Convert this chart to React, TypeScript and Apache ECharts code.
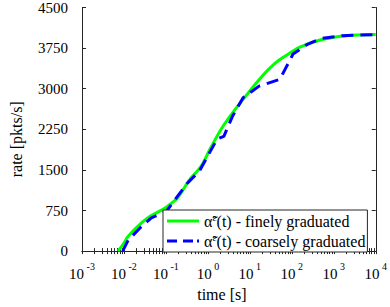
import React, { useEffect, useRef } from "react";
import * as echarts from "echarts";

const fineT = [0.0072, 0.010, 0.012, 0.019, 0.028, 0.041, 0.068, 0.11, 0.19, 0.36, 0.68, 1.12, 2.1, 4.7, 10, 14, 27.5, 50, 100, 155, 430, 1000, 2000, 10000];
const fineV = [0, 150, 251, 420, 540, 640, 730, 830, 986, 1310, 1560, 1880, 2260, 2640, 2958, 3100, 3353, 3530, 3680, 3770, 3891, 3950, 3980, 4000];

const coarseT = [0.0093, 0.0126, 0.025, 0.045, 0.10, 0.32, 0.63, 1.66, 2.4, 3.8, 6.9, 16.6, 52, 107, 234, 500, 1585, 10000];
const coarseV = [0, 200, 440, 615, 725, 1250, 1480, 2070, 2120, 2480, 2833, 3048, 3174, 3640, 3819, 3927, 3980, 4000];

const yTicks = [0, 750, 1500, 2250, 3000, 3750, 4500];
const xMin = 0.001;
const xMax = 10000;
const xTickValues: number[] = [];
for (let d = -3; d < 4; d++) {
  for (let k = 1; k <= 9; k++) xTickValues.push(Number((k * Math.pow(10, d)).toPrecision(3)));
}
xTickValues.push(xMax);

const FONT = "Liberation Serif";
const AX = "#262626";
const GREEN_ICON = "path://M0,0H32V3H0Z";
const BLUE_ICON = "path://M0,0H10V3H0Z M16,0H26V3H16Z M30,0H32V3H30Z";

export default function App() {
  const ref = useRef<HTMLDivElement>(null);
  useEffect(() => {
    const chart = echarts.init(ref.current!, undefined, { renderer: "svg" });
    const tick = () => ({ show: true, inside: true, length: 3, lineStyle: { color: AX, width: 1 }, customValues: xTickValues.slice() });
    const yTick = () => ({ show: true, inside: true, length: 4, lineStyle: { color: AX, width: 1 } });
    chart.setOption({
      animation: false,
      backgroundColor: "#fff",
      textStyle: { fontFamily: FONT, fontSize: 15 },
      grid: { left: 62, right: 11, top: 6, bottom: 50, containLabel: false },
      legend: {
        orient: "vertical",
        left: 163,
        top: 210,
        itemWidth: 32,
        itemHeight: 3,
        itemGap: 2,
        padding: [2, 2, 2, 4],
        borderColor: AX,
        borderWidth: 1,
        backgroundColor: "#fff",
        borderRadius: 0,
        textStyle: {
          fontFamily: FONT,
          fontSize: 16,
          color: "#000",
          lineHeight: 18,
          rich: {
            sup: { fontFamily: FONT, fontSize: 10, lineHeight: 10, verticalAlign: "top", color: "#000" },
          },
        },
        formatter: (name: string) => `α̃{sup|ε}(t) - ${name}`,
        data: [
          { name: "finely graduated", icon: GREEN_ICON },
          { name: "coarsely graduated", icon: BLUE_ICON },
        ],
      },
      xAxis: [
        {
          type: "log",
          logBase: 10,
          min: xMin,
          max: xMax,
          interval: 1,
          splitLine: { show: false },
          position: "bottom",
          axisLine: { show: true, lineStyle: { color: AX, width: 1 } },
          axisTick: tick(),
          axisLabel: {
            show: true,
            margin: 10,
            color: "#000",
            fontFamily: FONT,
            fontSize: 15,
            formatter: (v: number) => `{b|10}{e| ${Math.round(Math.log10(v))}}`,
            rich: {
              b: { fontFamily: FONT, fontSize: 15, lineHeight: 20, verticalAlign: "bottom", color: "#000" },
              e: { fontFamily: FONT, fontSize: 10, lineHeight: 12, verticalAlign: "top", color: "#000" },
            },
          },
          name: "time [s]",
          nameLocation: "middle",
          nameGap: 33,
          nameTextStyle: { fontFamily: FONT, fontSize: 16, color: "#000", padding: [0, 14, 0, 0] },
        },
        {
          type: "log",
          logBase: 10,
          min: xMin,
          max: xMax,
          interval: 1,
          splitLine: { show: false },
          position: "top",
          axisLine: { show: true, lineStyle: { color: AX, width: 1 } },
          axisTick: tick(),
          axisLabel: { show: false },
        },
      ],
      yAxis: [
        {
          type: "value",
          min: yTicks[0],
          max: yTicks[yTicks.length - 1],
          interval: 750,
          position: "left",
          splitLine: { show: false },
          axisLine: { show: true, lineStyle: { color: AX, width: 1 } },
          axisTick: yTick(),
          axisLabel: { show: true, fontFamily: FONT, fontSize: 15, color: "#000", margin: 14, formatter: (v: number) => String(v) },
          name: "rate [pkts/s]",
          nameLocation: "middle",
          nameGap: 58,
          nameTextStyle: { fontFamily: FONT, fontSize: 16, color: "#000", padding: [0, 20, 0, 0] },
        },
        {
          type: "value",
          min: yTicks[0],
          max: yTicks[yTicks.length - 1],
          interval: 750,
          position: "right",
          splitLine: { show: false },
          axisLine: { show: true, lineStyle: { color: AX, width: 1 } },
          axisTick: yTick(),
          axisLabel: { show: false },
        },
      ],
      series: [
        {
          name: "finely graduated",
          type: "line",
          xAxisIndex: 0,
          yAxisIndex: 0,
          showSymbol: false,
          symbol: "none",
          smooth: 0.3,
          lineStyle: { color: "#00ff00", width: 3 },
          itemStyle: { color: "#00ff00" },
          data: fineT.map((t, i) => [t, fineV[i]]),
        },
        {
          name: "coarsely graduated",
          type: "line",
          xAxisIndex: 0,
          yAxisIndex: 0,
          showSymbol: false,
          symbol: "none",
          lineStyle: { color: "#0000ff", width: 3, type: [12, 7] },
          itemStyle: { color: "#0000ff" },
          data: coarseT.map((t, i) => [t, coarseV[i]]),
        },
      ],
    });
    return () => chart.dispose();
  }, []);
  return <div ref={ref} style={{ width: 390, height: 307, position: "absolute", left: 0, top: 0 }} />;
}
